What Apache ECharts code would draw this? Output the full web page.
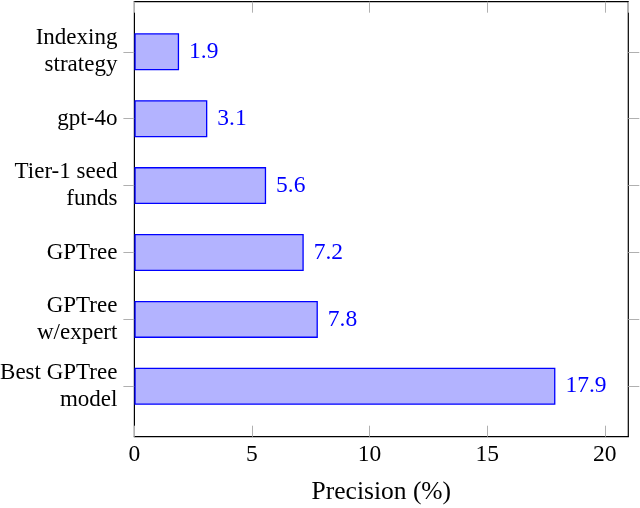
<!DOCTYPE html>
<html><head><meta charset="utf-8">
<script src="https://cdn.jsdelivr.net/npm/echarts@6/dist/echarts.min.js"></script>
<style>html,body{margin:0;padding:0;background:#fff}#c{width:640px;height:508px}</style>
</head><body><div id="c"></div>
<script>
const categories = ['Indexing\nstrategy', 'gpt-4o', 'Tier-1 seed\nfunds', 'GPTree', 'GPTree\nw/expert', 'Best GPTree\nmodel'];
const precision = [1.9, 3.1, 5.6, 7.2, 7.8, 17.9];
const xTicks = [0, 5, 10, 15, 20];

const FONT = 'Liberation Serif';
const FS_CAT = 23, FS_NUM = 23.5, FS_TITLE = 25.5;
const chart = echarts.init(document.getElementById('c'), null, {renderer: 'canvas'});
const L = 134.4, R = 640 - 628.3;
chart.setOption({
  animation: false,
  textStyle: {fontFamily: FONT},
  grid: [
    {left: L, right: R, top: 1.7, bottom: 508 - 436.7, show: true, borderColor: '#000', borderWidth: 1.2,
     backgroundColor: 'transparent', containLabel: false, outerBoundsMode: 'none'},
    {left: L, right: R, top: 18.35, bottom: 508 - 419.75, containLabel: false, outerBoundsMode: 'none'}
  ],
  xAxis: [
    {type: 'value', gridIndex: 0, min: 0, max: 21, interval: 5, position: 'bottom',
     axisLine: {show: true, lineStyle: {color: '#000', width: 1.2}},
     axisTick: {show: true, inside: true, length: 11, lineStyle: {color: '#b0b0b0', width: 1}},
     axisLabel: {show: true, margin: 6, color: '#000', fontFamily: FONT, fontSize: FS_NUM, showMaxLabel: false,
       formatter: v => xTicks.includes(v) ? String(v) : ''},
     splitLine: {show: false},
     name: 'Precision (%)', nameLocation: 'middle', nameGap: 43,
     nameTextStyle: {color: '#000', fontFamily: FONT, fontSize: FS_TITLE}},
    {type: 'value', gridIndex: 0, min: 0, max: 21, interval: 5, position: 'top',
     axisLine: {show: true, lineStyle: {color: '#000', width: 1.2}},
     axisTick: {show: true, inside: true, length: 11, lineStyle: {color: '#b0b0b0', width: 1}},
     axisLabel: {show: false}, splitLine: {show: false}},
    {type: 'value', gridIndex: 1, min: 0, max: 21, show: false}
  ],
  yAxis: [
    {type: 'value', gridIndex: 0, min: 0, max: 1, show: false},
    {type: 'category', gridIndex: 1, data: categories, inverse: true, position: 'left',
     axisLine: {show: false},
     axisTick: {show: true, alignWithLabel: true, length: 11, lineStyle: {color: '#b0b0b0', width: 1}},
     axisLabel: {margin: 17, color: '#000', fontFamily: FONT, fontSize: FS_CAT, lineHeight: 26.7, align: 'right'}},
    {type: 'category', gridIndex: 1, data: categories, inverse: true, position: 'right',
     axisLine: {show: false},
     axisTick: {show: true, alignWithLabel: true, length: 11, lineStyle: {color: '#b0b0b0', width: 1}},
     axisLabel: {show: false}}
  ],
  series: [{
    type: 'bar', xAxisIndex: 2, yAxisIndex: 1, data: precision, barWidth: 37,
    itemStyle: {color: '#b3b3ff', borderColor: '#0000ff', borderWidth: 1.3},
    label: {show: true, position: 'right', distance: 10, color: '#0000ff', fontFamily: FONT, fontSize: FS_NUM,
      formatter: p => p.value.toFixed(1)}
  }]
});
</script></body></html>
